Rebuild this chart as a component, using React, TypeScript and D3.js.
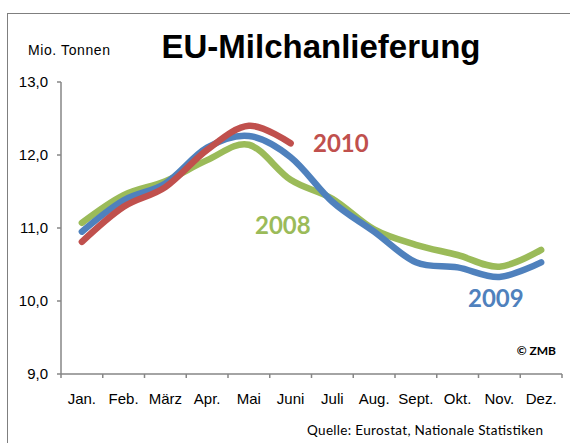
import React from 'react';
import * as d3 from 'd3';

const months = ['Jan.', 'Feb.', 'März', 'Apr.', 'Mai', 'Juni', 'Juli', 'Aug.', 'Sept.', 'Okt.', 'Nov.', 'Dez.'];
const yTicks = [9, 10, 11, 12, 13];

// Mio. Tonnen
const values2008 = [11.07, 11.45, 11.64, 11.93, 12.14, 11.66, 11.4, 10.98, 10.77, 10.63, 10.47, 10.7];
const values2009 = [10.95, 11.38, 11.61, 12.1, 12.26, 11.97, 11.36, 10.95, 10.53, 10.46, 10.33, 10.53];
const values2010 = [10.81, 11.29, 11.56, 12.07, 12.4, 12.16];

const series = [
  { name: '2008', values: values2008, color: '#9BBB59', label: [255, 234] },
  { name: '2009', values: values2009, color: '#4F81BD', label: [468, 307] },
  { name: '2010', values: values2010, color: '#C0504D', label: [313, 152] },
];

export default function App() {
  const width = 570;
  const height = 443;
  const left = 61, right = 562, top = 82, bottom = 374;

  const x = d3.scaleBand<string>().domain(months).range([left, right]);
  const y = d3.scaleLinear().domain([9, 13]).range([bottom, top]);

  const line = d3.line<number>()
    .x((d, i) => (x(months[i]) as number) + x.bandwidth() / 2)
    .y(d => y(d))
    .curve(d3.curveCatmullRom.alpha(0));

  const axisColor = '#868686';
  const sans = '"Liberation Sans", Arial, sans-serif';

  return (
    <svg width={width} height={height} style={{ position: 'absolute', left: 0, top: 0, background: '#fff' }}>
      <rect x={7.5} y={13.5} width={600} height={500} fill="none" stroke="#7f7f7f" strokeWidth={1} />

      <text x={321} y={58} textAnchor="middle" fontFamily={sans} fontWeight="bold" fontSize={33} fill="#000">
        EU-Milchanlieferung
      </text>
      <text x={28} y={55} fontFamily={sans} fontSize={14} fill="#000" textLength={82} lengthAdjust="spacing">
        Mio. Tonnen
      </text>

      {/* y axis */}
      <line x1={left} x2={left} y1={top} y2={bottom} stroke={axisColor} strokeWidth={1.5} />
      {yTicks.map(t => (
        <g key={t}>
          <line x1={left - 4} x2={left} y1={y(t)} y2={y(t)} stroke={axisColor} strokeWidth={1.5} />
          <text x={48} y={y(t) + 5} textAnchor="end" fontFamily={sans} fontSize={15} fill="#000">
            {d3.format('.1f')(t).replace('.', ',')}
          </text>
        </g>
      ))}

      {/* x axis */}
      <line x1={left} x2={right} y1={bottom} y2={bottom} stroke={axisColor} strokeWidth={1.5} />
      {months.map(m => (
        <line key={'t' + m} x1={(x(m) as number) + x.bandwidth()} x2={(x(m) as number) + x.bandwidth()}
          y1={bottom} y2={bottom + 4} stroke={axisColor} strokeWidth={1.5} />
      ))}
      <line x1={left} x2={left} y1={bottom} y2={bottom + 4} stroke={axisColor} strokeWidth={1.5} />
      {months.map(m => (
        <text key={m} x={(x(m) as number) + x.bandwidth() / 2} y={404} textAnchor="middle"
          fontFamily={sans} fontSize={15} fill="#000">{m}</text>
      ))}

      {series.map(s => (
        <path key={s.name} d={line(s.values) as string} fill="none" stroke={s.color}
          strokeWidth={6.5} strokeLinecap="round" strokeLinejoin="round" />
      ))}
      {series.map(s => (
        <text key={'l' + s.name} x={s.label[0]} y={s.label[1]} fontFamily="Lato, sans-serif"
          fontWeight="bold" fontSize={24} fill={s.color}>{s.name}</text>
      ))}

      <text x={556} y={355} textAnchor="end" fontFamily="Lato, sans-serif" fontWeight="bold" fontSize={12} fill="#000">
        © ZMB
      </text>
      <text x={307} y={435} fontFamily="Lato, sans-serif" fontSize={13.5} fill="#000"
        textLength={236} lengthAdjust="spacing">
        Quelle: Eurostat,  Nationale Statistiken
      </text>
    </svg>
  );
}
